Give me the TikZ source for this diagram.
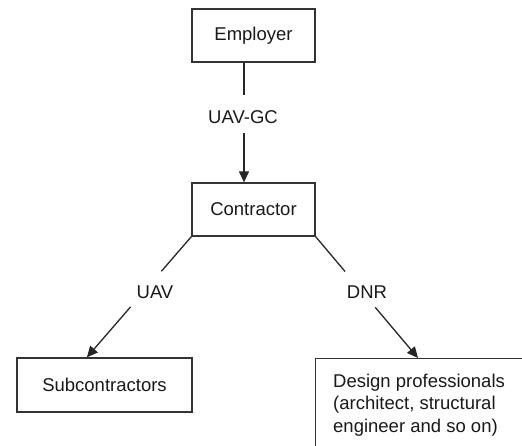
\documentclass[tikz,border=0pt]{standalone}
\usepackage{fontspec}
\setmainfont{Liberation Sans}
\usetikzlibrary{arrows.meta,calc}
\begin{document}
\begin{tikzpicture}[x=1pt,y=-1pt,
  every node/.style={font=\fontsize{18.5}{22.5}\selectfont, text=black!90},
  box/.style={draw=black!80, line width=1.3pt, inner sep=0pt},
  lbl/.style={inner sep=0pt, text height=13.3pt, text depth=0pt},
  conn/.style={draw=black!85, line width=1.3pt},
  arr/.style={conn, -{Triangle[length=11pt,width=10pt]}}]
\path[use as bounding box] (0,0) rectangle (522,445);
\begin{scope}
\clip (-5,-5) rectangle (522,445);
\node[box, anchor=north west, minimum width=300pt, minimum height=200pt] (dp) at (315,358) {};
\end{scope}
\node[box, minimum width=123pt, minimum height=53pt] (emp) at (253.5,35.5) {Employer};
\node[box, minimum width=123pt, minimum height=53pt] (con) at (253.5,209.5) {Contractor};
\node[box, minimum width=175pt, minimum height=54pt] (sub) at (104.5,385) {Subcontractors};
\node[anchor=north west, align=left, inner sep=0pt] (dptext) at (333,373.5)
  {Design professionals\\(architect, structural\\engineer and so on)};
% labels
\node[lbl] (lgc) at (243,117) {UAV-GC};
\node[lbl] (luav) at (155,292) {UAV};
\node[lbl] (ldnr) at (367,292) {DNR};
% tips
\coordinate (subtip) at ($(sub.north west)!0.4!(sub.north east)$);
\coordinate (dptip) at ($(dp.north west)+(103,0)$);
% Employer -> Contractor
\draw[conn] (emp.south -| 244,0) -- (244,95);
\draw[arr] (244,133) -- (con.north -| 244,0);
% Contractor -> Subcontractors
\path (con.south west) -- (subtip) coordinate[pos=0.287] (a1) coordinate[pos=0.582] (a2);
\draw[conn] (con.south west) -- (a1);
\draw[arr] (a2) -- (subtip);
% Contractor -> Design professionals
\path (con.south east) -- (dptip) coordinate[pos=0.287] (b1) coordinate[pos=0.582] (b2);
\draw[conn] (con.south east) -- (b1);
\draw[arr] (b2) -- (dptip);
\end{tikzpicture}
\end{document}
